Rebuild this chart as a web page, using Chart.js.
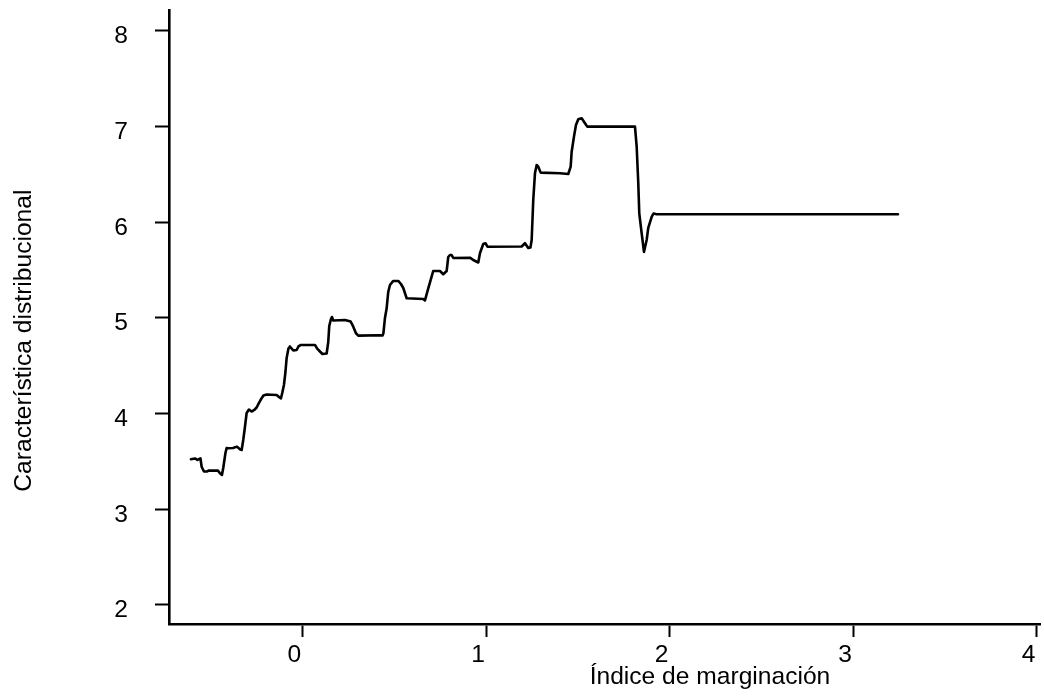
<!DOCTYPE html>
<html>
<head>
<meta charset="utf-8">
<script src="https://cdn.jsdelivr.net/npm/chart.js@4.4.1/dist/chart.umd.min.js"></script>
<style>
  html, body { margin: 0; padding: 0; background: #ffffff; }
  canvas { display: block; }
</style>
</head>
<body>
<canvas id="chart" width="1044" height="696"></canvas>
<script>
// Smoothed distributional characteristic against the marginalisation index
const indiceMarginacion = [
  -0.6075, -0.5857, -0.5720, -0.5557, -0.5492, -0.5366, -0.5203, -0.5094, -0.4604, -0.4495,
  -0.4386, -0.4315, -0.4195, -0.4130, -0.4032, -0.3786, -0.3568, -0.3405, -0.3312, -0.3225,
  -0.3133, -0.3040, -0.2915, -0.2768, -0.2626, -0.2495, -0.2397, -0.2261, -0.2125, -0.1950,
  -0.1406, -0.1264, -0.1171, -0.1101, -0.1008, -0.0926, -0.0861, -0.0763, -0.0681, -0.0501,
  -0.0316, -0.0218, -0.0082, 0.0681, 0.0817, 0.0926, 0.1090, 0.1318, 0.1406, 0.1460,
  0.1553, 0.1607, 0.1678, 0.2315, 0.2626, 0.2768, 0.2915, 0.3040, 0.4222, 0.4369,
  0.4413, 0.4495, 0.4587, 0.4674, 0.4767, 0.4947, 0.5219, 0.5366, 0.5492, 0.5677,
  0.6581, 0.6674, 0.6854, 0.7126, 0.7491, 0.7671, 0.7856, 0.7943, 0.8036, 0.8128,
  0.8216, 0.9126, 0.9305, 0.9578, 0.9670, 0.9850, 0.9970, 1.0079, 1.1942, 1.2122,
  1.2302, 1.2422, 1.2487, 1.2574, 1.2667, 1.2760, 1.2847, 1.2977, 1.4029, 1.4481,
  1.4612, 1.4666, 1.4792, 1.4901, 1.5026, 1.5211, 1.5391, 1.5516, 1.8115, 1.8208,
  1.8295, 1.8349, 1.8480, 1.8605, 1.8752, 1.8839, 1.9025, 1.9123, 1.9297, 3.2443
];
const caracteristica = [
  3.520, 3.528, 3.513, 3.530, 3.442, 3.392, 3.392, 3.403, 3.401, 3.373,
  3.356, 3.429, 3.586, 3.638, 3.635, 3.638, 3.652, 3.624, 3.617, 3.722,
  3.857, 4.004, 4.040, 4.019, 4.035, 4.061, 4.098, 4.147, 4.187, 4.197,
  4.192, 4.168, 4.157, 4.213, 4.296, 4.432, 4.579, 4.678, 4.699, 4.657,
  4.662, 4.699, 4.715, 4.715, 4.673, 4.652, 4.620, 4.626, 4.746, 4.913,
  4.986, 5.007, 4.971, 4.976, 4.960, 4.906, 4.837, 4.812, 4.816, 4.814,
  4.840, 4.997, 5.098, 5.269, 5.342, 5.384, 5.384, 5.352, 5.310, 5.203,
  5.195, 5.180, 5.307, 5.488, 5.488, 5.454, 5.488, 5.634, 5.655, 5.655,
  5.624, 5.627, 5.603, 5.577, 5.673, 5.770, 5.778, 5.742, 5.744, 5.778,
  5.729, 5.734, 5.812, 6.230, 6.509, 6.596, 6.578, 6.516, 6.509, 6.502,
  6.578, 6.735, 6.892, 7.014, 7.074, 7.084, 7.032, 6.997, 6.997, 6.787,
  6.405, 6.091, 5.882, 5.687, 5.812, 5.938, 6.053, 6.089, 6.081, 6.081
];
const xTicks = [0, 1, 2, 3, 4];
const yTicks = [2, 3, 4, 5, 6, 7, 8];
const xTitle = 'Índice de marginación';
const yTitle = 'Característica distribucional';

const FONT = '"Liberation Sans", Arial, Helvetica, sans-serif';
const FONT_SIZE = 24.6;
const points = indiceMarginacion.map((x, i) => ({ x: x, y: caracteristica[i] }));

// Axis titles placed the way the original graph engine lays them out
const axisTitles = {
  id: 'axisTitles',
  afterDraw(chart) {
    const ctx = chart.ctx;
    ctx.save();
    ctx.fillStyle = '#000000';
    ctx.font = FONT_SIZE + 'px ' + FONT;
    ctx.textAlign = 'center';
    ctx.textBaseline = 'middle';
    ctx.fillText(xTitle, chart.scales.x.getPixelForValue(2.22), 677);
    ctx.translate(24, chart.scales.y.getPixelForValue(4.76));
    ctx.rotate(-Math.PI / 2);
    ctx.fillText(yTitle, 0, 0);
    ctx.restore();
  }
};

function noEdgePadding(s) {
  s.paddingTop = 0;
  s.paddingBottom = 0;
  s.paddingLeft = 0;
  s.paddingRight = 0;
}

new Chart(document.getElementById('chart'), {
  type: 'scatter',
  data: {
    datasets: [{
      data: points,
      showLine: true,
      borderColor: '#000000',
      borderWidth: 2.6,
      pointRadius: 0,
      pointHoverRadius: 0,
      tension: 0,
      borderJoinStyle: 'round',
      borderCapStyle: 'round',
      fill: false
    }]
  },
  options: {
    responsive: false,
    animation: false,
    devicePixelRatio: 1,
    layout: { padding: { top: 10, right: 4, left: 0, bottom: 0 } },
    plugins: {
      legend: { display: false },
      tooltip: { enabled: false },
      title: { display: false }
    },
    scales: {
      x: {
        type: 'linear',
        min: -0.727,
        max: 4.018,
        afterBuildTicks: s => { s.ticks = xTicks.map(v => ({ value: v })); },
        afterFit: s => { s.height = 72; noEdgePadding(s); },
        border: { display: true, color: '#000000', width: 2.6 },
        grid: { drawOnChartArea: false, drawTicks: true, tickLength: 13, tickColor: '#000000', tickWidth: 2 },
        ticks: {
          color: '#000000',
          font: { family: FONT, size: FONT_SIZE },
          padding: 3,
          labelOffset: -8,
          maxRotation: 0,
          autoSkip: false
        }
      },
      y: {
        type: 'linear',
        min: 1.798,
        max: 8.216,
        afterBuildTicks: s => { s.ticks = yTicks.map(v => ({ value: v })); },
        afterFit: s => { s.width = 169; noEdgePadding(s); },
        border: { display: true, color: '#000000', width: 2.6 },
        grid: { drawOnChartArea: false, drawTicks: true, tickLength: 14, tickColor: '#000000', tickWidth: 2 },
        ticks: {
          color: '#000000',
          font: { family: FONT, size: FONT_SIZE },
          padding: 27,
          labelOffset: 6,
          autoSkip: false
        }
      }
    }
  },
  plugins: [axisTitles]
});
</script>
</body>
</html>
